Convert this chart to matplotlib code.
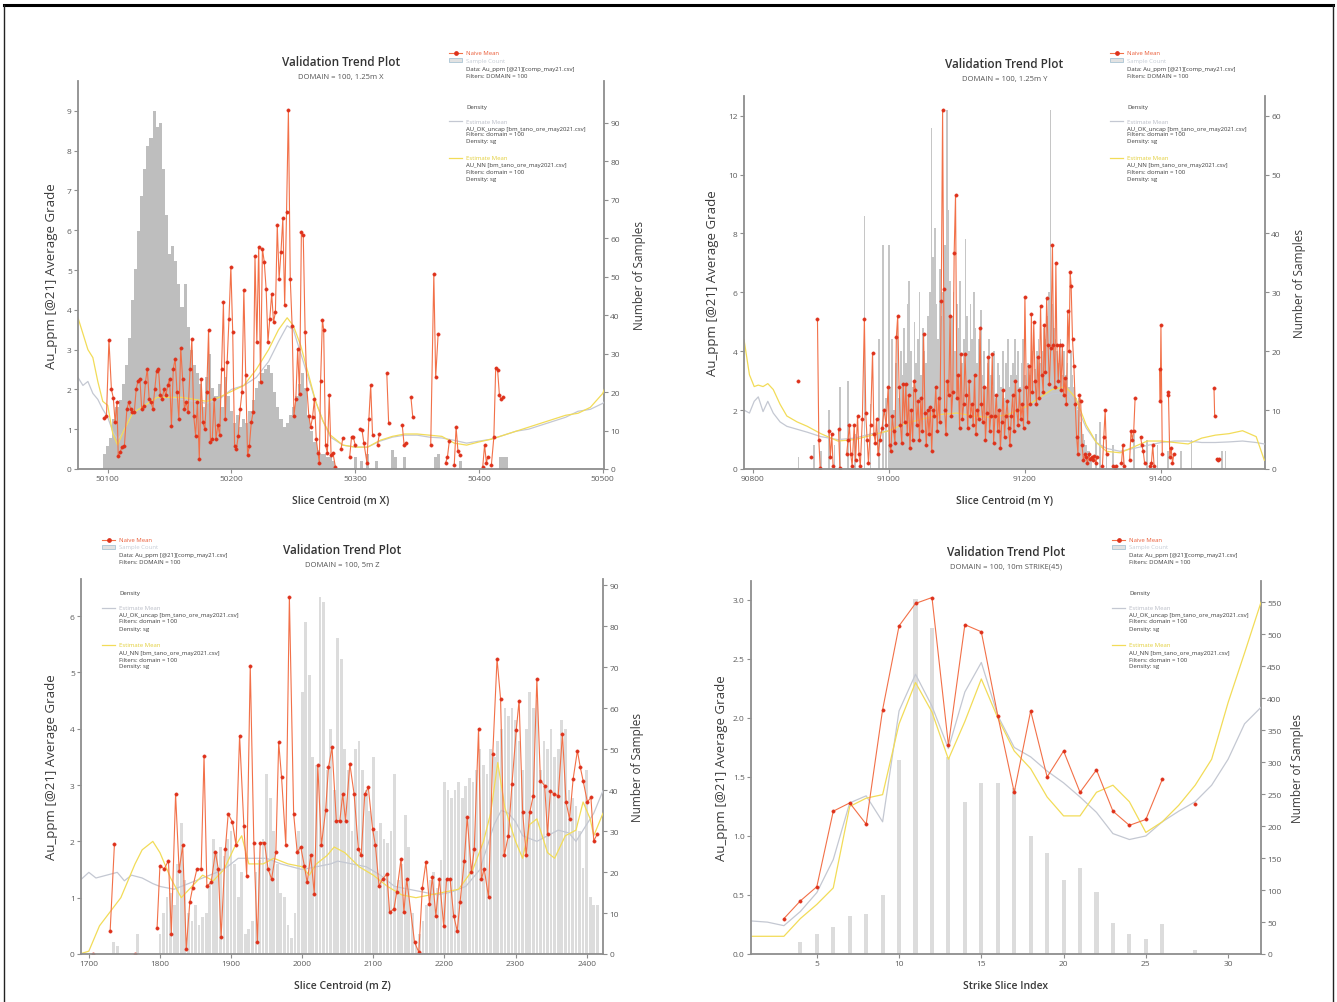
import numpy as np
import matplotlib
matplotlib.use("Agg")
import matplotlib.pyplot as plt
from matplotlib.lines import Line2D
from matplotlib.patches import Rectangle

plt.rcParams['font.family'] = ['Open Sans', 'DejaVu Sans']

nan = np.nan

# ---------------------------------------------------------------------------
# Panel 1 : DOMAIN = 100, 1.25m X
# ---------------------------------------------------------------------------
x_count_start, x_count_step = 50097.5, 2.5
x_count_n = [4, 6, 8, 13, 16, 18, 22, 27, 34, 44,
             52, 62, 71, 78, 84, 86, 93, 89, 90, 78,
             66, 56, 58, 54, 48, 42, 48, 37, 31, 27,
             25, 22, 16, 24, 30, 21, 19, 22, 16, 24,
             19, 15, 12, 14, 11, 13, 12, 15, 18, 21,
             23, 25, 26, 27, 25, 20, 16, 13, 11, 12,
             14, 16, 19, 22, 25, 21, 14, 10, 7, 5,
             4, 4, 3, 3, 2]
x_sparse_x = [50300, 50305, 50310, 50317.5, 50330, 50332.5, 50340, 50365, 50367.5, 50385, 50417.5, 50420, 50422.5]
x_sparse_n = [3, 2, 4, 2, 5, 3, 3, 3, 4, 2, 3, 3, 3]

x_naive_x = [50097, 50099, 50101, 50103, 50104.5, 50106, 50107.5, 50108.5, 50110, 50111.5,
             50113.5, 50115.5, 50117, 50118.5, 50120, 50121.5, 50123, 50124.5, 50126, 50127.5,
             50129, 50130.5, 50132, 50133.5, 50135, 50136.5, 50138, 50139.5, 50141, 50142.5,
             50144, 50145.5, 50147, 50148.5, 50150, 50151.5, 50153, 50154.5, 50156, 50157.5,
             50159, 50160.5, 50162, 50163.5, 50165, 50166.5, 50168, 50169.5, 50171, 50172.5,
             50174, 50175.5, 50177, 50178.5, 50180, 50181.5, 50183, 50184.5, 50186, 50187.5,
             50189, 50190.5, 50192, 50193.5, 50195, 50196.5, 50198, 50199.5, 50201, 50202.5,
             50204, 50205.5, 50207, 50208.5, 50210, 50211.5, 50213, 50214.5, 50216, 50217.5,
             50219, 50220.5, 50222, 50223.5, 50225, 50226.5, 50228, 50229.5, 50231, 50232.5,
             50234, 50235.5, 50237, 50238.5, 50240, 50241.5, 50243, 50244.5, 50246, 50247.5,
             50249, 50250.5, 50252, 50253.5, 50255, 50256.5, 50258, 50259.5, 50261, 50262.5,
             50264, 50265.5, 50267, 50268.5, 50270, 50271, 50272, 50273.5, 50274.5, 50276,
             50277.5, 50279, 50280.5, 50282, 50284]
x_naive_y = [1.28, 1.33, 3.25, 2.0, 1.79, 1.17, 1.68, 0.32, 0.42, 0.55,
             0.59, 1.51, 1.68, 1.51, 1.43, 1.43, 2.0, 2.22, 2.27, 1.51,
             1.59, 2.18, 2.52, 1.76, 1.68, 1.51, 2.0, 2.47, 2.52, 1.85,
             1.76, 2.0, 1.85, 2.1, 2.27, 1.09, 2.52, 2.77, 1.93, 1.26,
             3.05, 2.27, 1.51, 1.68, 1.43, 2.52, 3.27, 1.34, 0.84, 1.68,
             0.25, 2.27, 1.17, 1.0, 1.93, 3.5, 0.67, 0.76, 1.76, 0.76,
             1.1, 0.85, 2.52, 4.19, 1.26, 2.68, 3.78, 5.08, 3.44, 0.59,
             0.5, 0.84, 1.51, 1.93, 4.5, 2.35, 0.34, 0.59, 1.17, 1.43,
             5.35, 3.19, 5.58, 2.18, 5.54, 5.2, 4.53, 3.19, 3.78, 4.4,
             3.69, 3.94, 6.12, 4.78, 5.45, 6.3, 4.11, 6.46, 9.02, 4.78,
             3.6, 1.34, 1.76, 3.02, 1.89, 5.96, 5.87, 3.44, 2.0, 1.34,
             1.05, 1.3, 1.75, 0.75, 0.4, 0.15, 2.2, 3.75, 3.5, 0.6,
             0.4, 1.85, 0.35, 0.4, 0.05]
x_tail_x = [50288.5, 50290, nan, 50295.5, 50297, 50298.5, 50300, nan, 50304, 50305.5,
            50307, 50309.5, 50311, 50312.5, 50314, nan, 50318, 50319.5, nan, 50325.5,
            50327, nan, 50338, 50339.5, 50341, nan, 50345, 50346.5, nan, 50361,
            50363.5, 50365, 50367, nan, 50373, 50374.5, 50376, nan, 50380, 50381.5,
            50383, 50384.5, nan, 50403, 50404.5, 50406, 50407, nan, 50410, 50412,
            50413.5, 50415, 50416.5, 50418, 50419.5]
x_tail_y = [0.5, 0.78, nan, 0.3, 0.8, 0.8, 0.6, nan, 1.0, 0.97,
            0.65, 0.15, 1.25, 2.1, 0.85, nan, 0.6, 0.88, nan, 2.4,
            1.15, nan, 1.1, 0.6, 0.65, nan, 1.8, 1.3, nan, 0.6,
            4.9, 2.3, 3.4, nan, 0.15, 0.3, 0.7, nan, 0.1, 1.05,
            0.45, 0.35, nan, 0.05, 0.6, 0.15, 0.3, nan, 0.1, 0.8,
            2.55, 2.5, 1.85, 1.75, 1.8]

x_est_x = [50076, 50080, 50084, 50088, 50092, 50096, 50100, 50104, 50108, 50112,
           50120, 50130, 50140, 50150, 50160, 50170, 50180, 50190, 50200, 50210,
           50220, 50230, 50238, 50245, 50250, 50256, 50262, 50268, 50274, 50280,
           50290, 50300, 50310, 50320, 50330, 50340, 50350, 50360, 50370, 50380,
           50390, 50400, 50410, 50420, 50430, 50440, 50450, 50460, 50470, 50480,
           50490, 50500, 50510]
x_ok_y = [2.3, 2.1, 2.2, 1.9, 1.75, 1.5, 1.3, 0.95, 0.75, 0.9,
          1.4, 1.6, 1.8, 1.8, 1.75, 1.7, 1.65, 1.75, 2.0, 2.1,
          2.3, 2.7, 3.2, 3.6, 3.5, 2.9, 2.3, 1.7, 1.2, 0.8,
          0.6, 0.55, 0.55, 0.7, 0.8, 0.85, 0.85, 0.8, 0.78, 0.72,
          0.65, 0.7, 0.75, 0.85, 0.95, 1.0, 1.1, 1.2, 1.3, 1.45,
          1.5, 1.65, 1.95]
x_nn_y = [3.8, 3.4, 3.0, 2.8, 2.2, 1.7, 1.6, 0.9, 0.6, 0.9,
          1.4, 1.6, 1.8, 1.8, 1.8, 1.75, 1.7, 1.8, 1.95, 2.1,
          2.5, 3.0, 3.5, 3.8, 3.6, 3.1, 2.4, 1.7, 1.2, 0.85,
          0.6, 0.55, 0.55, 0.72, 0.82, 0.88, 0.88, 0.85, 0.82, 0.65,
          0.6, 0.68, 0.75, 0.85, 0.95, 1.05, 1.15, 1.25, 1.35, 1.4,
          1.55, 1.9, 2.7]

# ---------------------------------------------------------------------------
# Panel 2 : DOMAIN = 100, 1.25m Y
# ---------------------------------------------------------------------------
y_count_start, y_count_step = 91000.0, 2.5
y_count_n = [38, 14, 22, 10, 18, 26, 12, 20, 16, 24,
             18, 28, 32, 20, 14, 25, 18, 22, 30, 16,
             24, 20, 18, 26, 30, 58, 36, 41, 28, 22,
             34, 26, 30, 38, 61, 44, 32, 26, 30, 20,
             28, 24, 32, 18, 22, 39, 26, 20, 28, 22,
             30, 24, 18, 22, 27, 16, 20, 14, 18, 22,
             16, 14, 20, 12, 18, 16, 14, 20, 12, 18,
             22, 14, 16, 18, 22, 16, 20, 14, 18, 22,
             16, 14, 18, 16, 20, 15, 17, 20, 22, 18,
             20, 24, 22, 26, 30, 61, 28, 24, 22, 20,
             18, 22, 16, 20, 16, 18, 14, 20, 16, 14,
             12, 10, 12, 8, 6, 5, 4, 3, 3, 2]
y_sparse_x = [90867, 90890, 90900, 90912, 90920, 90928, 90940, 90950, 90964, 90973,
              90985, 90991, 90996, 91305, 91310, 91320, 91330, 91345, 91360, 91380,
              91395, 91410, 91430, 91445, 91490, 91495]
y_sparse_n = [2, 4, 3, 10, 4, 14, 15, 6, 43, 11,
              22, 38, 12, 6, 8, 5, 4, 3, 6, 5,
              4, 3, 3, 5, 3, 3]

y_naive_x = [90867, nan, 90885, nan, 90895, 90897, 90899, nan, 90912, 90914,
             90916, 90918, nan, 90926, 90928, nan, 90938, 90940, 90942, 90944,
             90946, 90949, 90951, 90954, 90956, 90958, 90961, 90964, 90966, 90968,
             90970, 90973, 90976, 90978, 90980, 90982, 90984, 90987, 90990, 90993,
             90996, 90999, 91001, 91003, 91005, 91007, 91009, 91011, 91013, 91015,
             91017, 91019, 91021, 91023, 91025, 91027, 91029, 91031, 91033, 91035,
             91037, 91039, 91041, 91043, 91045, 91047, 91049, 91051, 91053, 91055,
             91057, 91059, 91061, 91063, 91065, 91067, 91069, 91071, 91073, 91075,
             91077, 91079, 91080.5, 91082, 91084, 91086, 91088, 91090, 91092, 91094,
             91096, 91098, 91100, 91102, 91104, 91106, 91108, 91110, 91112, 91114,
             91116, 91118, 91120, 91122, 91124, 91126, 91128, 91130, 91132, 91134,
             91136, 91138, 91140, 91142, 91144, 91146, 91148, 91150, 91152, 91154,
             91156, 91158, 91160, 91162, 91164, 91166, 91168, 91170, 91172, 91174,
             91176, 91178, 91180, 91182, 91184, 91186, 91188, 91190, 91192, 91194,
             91196, 91198, 91200, 91202, 91204, 91206, 91208, 91209.5, 91211, 91213,
             91215, 91217, 91219, 91221, 91223, 91225, 91227, 91228.5, 91230, 91232,
             91234, 91236, 91238, 91240.5, 91242, 91244, 91245.5, 91247, 91249, 91251,
             91253, 91255, 91257, 91259, 91261, 91263, 91265, 91266.5, 91268, 91270,
             91272, 91274, 91276, 91278, 91280, 91282, 91284, 91286, 91288, 91290,
             91292, 91294, 91296, 91298, 91300, 91302, 91304, 91306, nan, 91314,
             91316, 91318, 91320, nan, 91330, 91332, 91334, nan, 91342, 91344,
             91346, nan, 91354, 91356, 91358, 91360, 91362, nan, 91370, 91372,
             91374, 91376, nan, 91384, 91386, 91388, 91390, nan, 91398, 91399,
             91400, 91402, nan, 91410, 91411, 91413, 91415, 91417, 91419, nan,
             91478, 91479, nan, 91482, 91484, 91486]
y_naive_y = [3.0, nan, 0.4, nan, 5.1, 1.0, 0.05, nan, 1.3, 0.4,
             1.2, 0.1, nan, 1.35, 0.05, nan, 0.5, 1.0, 1.5, 0.5,
             0.1, 1.5, 0.3, 1.8, 0.5, 0.1, 1.7, 5.1, 1.9, 1.0,
             0.2, 1.5, 3.95, 1.2, 0.9, 1.7, 0.5, 1.0, 1.4, 2.0,
             1.5, 2.8, 0.8, 0.6, 1.8, 1.3, 0.9, 4.5, 5.2, 2.8,
             1.5, 0.9, 2.9, 1.6, 2.9, 1.2, 2.5, 0.7, 2.0, 1.0,
             3.0, 2.7, 1.5, 2.3, 1.0, 2.4, 1.3, 4.6, 1.9, 0.8,
             2.0, 1.2, 2.1, 0.6, 2.0, 1.8, 2.8, 1.3, 2.4, 1.6,
             5.7, 12.2, 6.1, 2.0, 1.2, 3.0, 2.5, 5.2, 1.8, 2.6,
             7.35, 9.3, 2.4, 3.2, 1.4, 3.9, 1.7, 2.2, 3.9, 2.5,
             1.4, 3.0, 1.8, 2.2, 1.5, 3.2, 1.2, 2.0, 1.7, 4.8,
             2.2, 1.6, 2.8, 1.0, 1.9, 3.8, 1.3, 1.8, 3.9, 0.9,
             1.8, 2.5, 1.3, 2.0, 0.7, 1.6, 2.7, 1.1, 1.8, 2.3,
             1.4, 0.8, 1.8, 2.5, 1.3, 3.0, 2.0, 1.5, 2.7, 1.7,
             2.2, 1.4, 5.85, 2.8, 1.6, 3.5, 2.2, 5.25, 2.6, 5.0,
             3.0, 2.2, 3.8, 2.4, 5.55, 3.2, 2.6, 4.9, 3.3, 5.8,
             4.2, 2.9, 4.1, 7.6, 4.2, 2.8, 7.0, 4.2, 3.0, 4.2,
             2.7, 4.2, 2.5, 3.1, 2.2, 5.35, 4.0, 6.7, 6.2, 4.4,
             3.5, 2.2, 1.1, 0.5, 2.5, 2.3, 0.8, 0.3, 0.5, 0.4,
             0.2, 0.5, 0.35, 0.4, 0.3, 0.45, 0.2, 0.4, nan, 0.1,
             1.1, 2.0, 0.5, nan, 0.1, 0.05, 0.1, nan, 0.2, 0.8,
             0.1, nan, 0.3, 1.3, 1.0, 1.3, 2.4, nan, 1.1, 0.8,
             0.6, 0.2, nan, 0.1, 0.2, 0.8, 0.1, nan, 3.4, 2.3,
             4.9, 0.5, nan, 2.5, 2.6, 0.4, 0.7, 0.2, 0.5, nan,
             2.75, 1.8, nan, 0.35, 0.3, 0.35]

y_est_x = [90787, 90795, 90802, 90808, 90815, 90822, 90830, 90840, 90850, 90865,
           90880, 90900, 90925, 90950, 90975, 91000, 91025, 91050, 91075, 91100,
           91125, 91150, 91175, 91200, 91220, 91240, 91260, 91275, 91290, 91305,
           91320, 91340, 91360, 91380, 91400, 91420, 91440, 91460, 91480, 91500,
           91520, 91540, 91552]
y_ok_y = [2.0, 1.9, 2.3, 2.45, 1.95, 2.3, 1.9, 1.6, 1.45, 1.35,
          1.25, 1.1, 1.0, 1.05, 1.2, 1.3, 1.5, 1.65, 1.8, 1.85,
          1.75, 1.7, 1.8, 2.0, 2.3, 2.55, 2.6, 2.2, 1.4, 0.9,
          0.7, 0.6, 0.7, 0.8, 0.9, 0.95, 0.95, 0.9, 0.9, 0.92,
          0.95, 0.9, 0.85]
y_nn_y = [4.4, 3.2, 2.8, 2.85, 2.8, 2.9, 2.7, 2.2, 1.8, 1.6,
          1.45, 1.2, 0.95, 1.0, 1.15, 1.3, 1.55, 1.7, 1.85, 1.9,
          1.8, 1.75, 1.85, 2.1, 2.4, 2.7, 2.8, 2.4, 1.5, 0.9,
          0.6, 0.55, 0.75, 0.95, 0.95, 0.9, 0.85, 1.05, 1.15, 1.2,
          1.3, 1.1, 0.3]

# ---------------------------------------------------------------------------
# Panel 3 : DOMAIN = 100, 5m Z
# ---------------------------------------------------------------------------
z_count_start, z_count_step = 1800.0, 5.0
z_count_n = [5, 10, 14, 15, 12, 22, 32, 18, 10, 8,
             12, 7, 9, 10, 17, 28, 25, 26, 24, 28,
             30, 22, 14, 20, 5, 6, 8, 20, 23, 28,
             44, 38, 30, 22, 15, 14, 7, 4, 10, 30,
             64, 81, 68, 48, 46, 87, 86, 45, 55, 40,
             77, 72, 50, 45, 30, 50, 52, 45, 40, 35,
             48, 30, 32, 28, 27, 30, 44, 18, 22, 34,
             26, 10, 3, 5, 8, 12, 18, 20, 16, 23,
             42, 40, 38, 40, 42, 38, 41, 43, 42, 45,
             50, 46, 44, 50, 48, 52, 55, 60, 58, 60,
             57, 52, 45, 55, 64, 60, 62, 45, 52, 50,
             55, 48, 50, 57, 55, 40, 38, 36, 30, 21,
             45, 14, 12, 12]
z_sparse_x = [1735, 1740, 1768]
z_sparse_n = [3, 2, 5]

z_naive_x = [1706, nan, 1730, 1736, nan, 1765, nan,
             1796, 1800, 1806, 1812, 1816, 1822, 1827, 1832, 1837, 1842,
             1846, 1852, 1858, 1862, 1866, 1872, 1878, 1882, 1886, 1892,
             1896, 1902, 1907, 1912, 1918, 1922, 1927, 1932, 1937, 1941,
             1947, 1952, 1957, 1963, 1967, 1971, 1977, 1982, 1988, 1993,
             1998, 2003, 2007, 2012, 2017, 2022, 2027, 2033, 2037, 2042,
             2048, 2053, 2057, 2061, 2067, 2073, 2079, 2083, 2088, 2093,
             2099, 2103, 2108, 2113, 2119, 2123, 2129, 2133, 2139, 2143,
             2147,
             2158, 2164, 2169, 2174, 2179, 2183, 2188, 2193, 2199, 2203,
             2208, 2213, 2218, 2222, 2228, 2232, 2238, 2242, 2248, 2252,
             2256, 2262, 2268, 2274, 2279, 2284, 2290, 2295, 2301, 2305,
             2310, 2315, 2320, 2325, 2330, 2335, 2341, 2345, 2349, 2354,
             2360, 2366, 2371, 2376, 2381, 2387, 2391, 2395, 2401, 2406,
             2410, 2415]
z_naive_y = [0.0, nan, 0.41, 1.95, nan, 0.0, nan,
             0.47, 1.57, 1.51, 1.66, 0.36, 2.84, 1.48, 1.93, 0.09, 0.92,
             1.18, 1.51, 1.51, 3.52, 1.21, 1.27, 1.81, 1.51, 0.30, 1.87,
             2.49, 2.34, 1.93, 3.88, 2.28, 1.39, 5.12, 1.98, 0.21, 1.98,
             1.98, 1.51, 1.33, 1.81, 3.76, 3.14, 1.93, 6.34, 2.49, 1.81,
             1.90, 1.57, 1.27, 1.75, 1.07, 3.35, 1.93, 2.55, 3.32, 3.67,
             2.37, 2.37, 2.84, 2.37, 3.38, 2.84, 1.87, 1.75, 2.84, 2.96,
             2.22, 1.93, 1.21, 1.33, 1.42, 0.74, 0.80, 1.10, 1.69, 0.74,
             1.33,
             0.21, 0.03, 1.18, 1.63, 0.89, 1.36, 0.68, 1.33, 0.50, 1.33,
             1.33, 0.68, 0.41, 0.92, 1.66, 2.43, 1.45, 1.87, 4.00, 1.33,
             1.51, 1.01, 3.55, 5.24, 4.53, 1.75, 2.10, 3.02, 3.97, 4.50,
             2.52, 1.75, 2.52, 2.81, 4.89, 3.08, 2.99, 2.13, 2.90, 2.84,
             2.81, 3.91, 2.70, 2.40, 3.11, 3.61, 3.32, 3.08, 2.70, 2.78,
             2.01, 2.13]

z_ok_x = [1687, 1700, 1710, 1725, 1740, 1750, 1760, 1775, 1790, 1800,
          1820, 1840, 1860, 1880, 1895, 1910, 1930, 1950, 1970, 2000,
          2020, 2040, 2050, 2070, 2090, 2110, 2130, 2150, 2170, 2190,
          2210, 2230, 2250, 2260, 2270, 2280, 2290, 2300, 2310, 2330,
          2345, 2360, 2375, 2385, 2400, 2410, 2423]
z_ok_y = [1.3, 1.45, 1.35, 1.4, 1.45, 1.3, 1.4, 1.35, 1.25, 1.2,
          1.15, 1.25, 1.35, 1.45, 1.55, 1.7, 1.7, 1.7, 1.6, 1.5,
          1.55, 1.6, 1.65, 1.6, 1.55, 1.4, 1.2, 1.15, 1.1, 1.05,
          1.1, 1.2, 1.5, 1.9, 2.3, 2.55, 2.5, 2.35, 2.1, 2.0,
          2.1, 2.2, 2.15, 2.0, 2.3, 2.5, 2.9]
z_nn_x = [1687, 1700, 1715, 1730, 1745, 1755, 1765, 1775, 1790, 1800,
          1815, 1830, 1845, 1860, 1875, 1890, 1905, 1915, 1925, 1945,
          1960, 1980, 2000, 2010, 2020, 2035, 2045, 2060, 2080, 2100,
          2120, 2140, 2160, 2180, 2200, 2220, 2240, 2255, 2265, 2275,
          2285, 2300, 2310, 2320, 2330, 2345, 2355, 2370, 2385, 2395,
          2405, 2410, 2423]
z_nn_y = [0.0, 0.05, 0.5, 0.75, 1.0, 1.3, 1.6, 1.85, 2.0, 1.8,
          1.35, 1.0, 1.2, 1.4, 1.3, 1.5, 1.9, 2.1, 1.6, 1.6,
          1.7, 1.6, 1.55, 1.4, 1.6, 1.75, 1.9, 1.8, 1.55, 1.4,
          1.2, 1.05, 1.0, 1.05, 1.1, 1.15, 1.5, 2.0, 2.5, 3.4,
          2.6, 2.0, 1.7, 2.3, 2.4, 1.8, 1.7, 2.1, 2.2, 2.7,
          2.4, 2.1, 2.5]

# ---------------------------------------------------------------------------
# Panel 4 : DOMAIN = 100, 10m STRIKE(45)
# ---------------------------------------------------------------------------
s_count_x = [4, 5, 6, 7, 8, 9, 10, 11, 12, 13, 14, 15, 16, 17, 18, 19, 20, 21, 22, 23, 24, 25, 26, 28]
s_count_n = [18, 32, 42, 60, 62, 92, 303, 555, 510, 308, 238, 267, 268, 260, 184, 158, 116, 135, 97, 48, 32, 24, 47, 7]

s_naive_x = [3, 4, 5, 6, 7, 8, 9, 10, 11, 12, 13, 14, 15, 16, 17, 18, 19, 20, 21, 22, 23, 24, 25, 26, nan, 28]
s_naive_y = [0.30, 0.45, 0.57, 1.21, 1.28, 1.10, 2.07, 2.78, 2.97, 3.02,
             1.77, 2.79, 2.73, 2.02, 1.37, 2.06, 1.50, 1.72, 1.37, 1.56,
             1.21, 1.09, 1.14, 1.48, nan, 1.27]

s_est_x = list(range(1, 33))
s_ok_y = [0.28, 0.27, 0.24, 0.36, 0.52, 0.8, 1.28, 1.34, 1.12, 2.06,
          2.37, 2.1, 1.74, 2.22, 2.47, 2.02, 1.75, 1.67, 1.55, 1.45,
          1.33, 1.20, 1.02, 0.97, 1.0, 1.12, 1.21, 1.29, 1.43, 1.65,
          1.95, 2.09]
s_nn_y = [0.15, 0.15, 0.15, 0.3, 0.42, 0.56, 1.25, 1.32, 1.35, 1.95,
          2.3, 2.05, 1.65, 1.97, 2.33, 2.0, 1.72, 1.57, 1.33, 1.17,
          1.17, 1.37, 1.43, 1.29, 1.03, 1.12, 1.26, 1.43, 1.65, 2.13,
          2.55, 2.98]

# Legend text shared by the four plots
legend_rows = [("Naive Mean", "naive"),
               ("Sample Count", "count"),
               ("Data: Au_ppm [@21][comp_may21.csv]", None),
               ("Filters: DOMAIN = 100", None),
               ("Density", None),
               ("Estimate Mean", "ok"),
               ("AU_OK_uncap [bm_tano_ore_may2021.csv]", None),
               ("Filters: domain = 100", None),
               ("Density: sg", None),
               ("Estimate Mean", "nn"),
               ("AU_NN [bm_tano_ore_may2021.csv]", None),
               ("Filters: domain = 100", None),
               ("Density: sg", None)]
legend_offsets = [0, 7, 15, 22, 53, 68, 75, 81, 88, 105, 112, 119, 126]

# ---------------------------------------------------------------------------
W, H = 1337, 1003
fig = plt.figure(figsize=(W / 100, H / 100), dpi=100)
fig.patch.set_facecolor('white')

RED_LINE = '#f27048'
RED_MARK = '#de311b'
OK_GRAY = '#c4c8d2'
NN_YELLOW = '#f2dc58'
SPINE = '#8e8e8e'
TICKTXT = '#5c5c5c'
LABEL = '#3a3a3a'


def fx(x):
    return x / W


def fy(y):
    return 1 - y / H


def draw_legend(x0, y0):
    colors = {"naive": '#ea5a35', "count": '#c6cdd6', "ok": '#b9bcc6', "nn": '#e2cf3a'}
    tx = x0 + 17
    for (text, kind), off in zip(legend_rows, legend_offsets):
        y = y0 + off
        if kind == "naive":
            fig.add_artist(Line2D([fx(x0), fx(x0 + 13)], [fy(y), fy(y)], color=RED_LINE, lw=0.8))
            fig.add_artist(Line2D([fx(x0 + 6.5)], [fy(y)], marker='o', ms=2.4, color=RED_MARK, lw=0))
        elif kind == "count":
            fig.add_artist(Rectangle((fx(x0), fy(y + 2)), 13 / W, 4 / H, facecolor='#e2e2e2',
                                     edgecolor='#a9c4d4', lw=0.6))
        elif kind == "ok":
            fig.add_artist(Line2D([fx(x0), fx(x0 + 13)], [fy(y), fy(y)], color=OK_GRAY, lw=0.9))
        elif kind == "nn":
            fig.add_artist(Line2D([fx(x0), fx(x0 + 13)], [fy(y), fy(y)], color=NN_YELLOW, lw=0.9))
        color = colors.get(kind, '#3c3c3c')
        fig.text(fx(tx), fy(y), text, fontsize=4.3, color=color, va='center', ha='left')


def draw_panel(box, bars_x, bars_n, bar_w, bar_color, naive, ok, nn,
               xlim, ylim, y2lim, xticks, yticks, y2ticks,
               xlabel, subtitle, title_y, legend_at, ylab_x, y2lab_x):
    x0, y0, x1, y1 = box
    ax = fig.add_axes([fx(x0), fy(y1), (x1 - x0) / W, (y1 - y0) / H])
    ax2 = ax.twinx()
    ax2.bar(bars_x, bars_n, width=bar_w, color=bar_color, linewidth=0)
    ax.set_zorder(ax2.get_zorder() + 1)
    ax.patch.set_visible(False)
    ax.plot(ok[0], ok[1], color=OK_GRAY, lw=0.9)
    ax.plot(nn[0], nn[1], color=NN_YELLOW, lw=0.9)
    ax.plot(naive[0], naive[1], color=RED_LINE, lw=0.8, marker='o', ms=2.5,
            mfc=RED_MARK, mec=RED_MARK, mew=0.2)
    ax.set_xlim(*xlim)
    ax.set_ylim(*ylim)
    ax2.set_ylim(*y2lim)
    ax.set_xticks(xticks)
    ax.set_yticks(yticks)
    ax2.set_yticks(y2ticks)
    for a in (ax, ax2):
        for s in a.spines.values():
            s.set_visible(False)
    for s in (ax.spines['left'], ax.spines['bottom'], ax2.spines['right']):
        s.set_visible(True)
        s.set_color(SPINE)
        s.set_linewidth(1.3)
    ax.tick_params(axis='both', direction='out', length=3, width=0.8, color=SPINE,
                   labelsize=6, labelcolor=TICKTXT, pad=1.5)
    ax2.tick_params(axis='y', direction='out', length=3, width=0.8, color=SPINE,
                    labelsize=6, labelcolor=TICKTXT, pad=1.5)
    cx = (x0 + x1) / 2
    fig.text(fx(cx), fy(title_y), "Validation Trend Plot", fontsize=8.5, fontweight='semibold',
             color='#333333', ha='center', va='center')
    fig.text(fx(cx), fy(title_y + 15), subtitle, fontsize=5.5, color='#555555',
             ha='center', va='center')
    fig.text(fx(cx), fy(y1 + 32), xlabel, fontsize=7.5, fontweight='semibold', color=LABEL,
             ha='center', va='center')
    cy = (y0 + y1) / 2
    fig.text(fx(ylab_x), fy(cy), "Au_ppm [@21] Average Grade", fontsize=9.5, color=LABEL,
             rotation=90, ha='center', va='center')
    fig.text(fx(y2lab_x), fy(cy), "Number of Samples", fontsize=8.5, color=LABEL,
             rotation=90, ha='center', va='center')
    draw_legend(*legend_at)
    return ax, ax2


# Panel 1
p1_bars_x = list(x_count_start + x_count_step * np.arange(len(x_count_n))) + x_sparse_x
p1_bars_n = x_count_n + x_sparse_n
draw_panel((78, 82, 604, 470), p1_bars_x, p1_bars_n, 2.5, '#bebebe',
           (x_naive_x + [nan] + x_tail_x, x_naive_y + [nan] + x_tail_y),
           (x_est_x, x_ok_y), (x_est_x, x_nn_y),
           (50076, 50501), (0, 9.75), (0, 100.9),
           [50100, 50200, 50300, 50400, 50500], range(0, 10), range(0, 91, 10),
           "Slice Centroid (m X)", "DOMAIN = 100, 1.25m X", 63, (449, 54), 52, 640)

# Panel 2
p2_bars_x = list(y_count_start + y_count_step * np.arange(len(y_count_n))) + y_sparse_x
p2_bars_n = y_count_n + y_sparse_n
draw_panel((744, 97, 1265, 470), p2_bars_x, p2_bars_n, 2.5, '#c6c6c6',
           (y_naive_x, y_naive_y), (y_est_x, y_ok_y), (y_est_x, y_nn_y),
           (90787, 91553), (0, 12.67), (0, 63.35),
           [90800, 91000, 91200, 91400], range(0, 13, 2), range(0, 61, 10),
           "Slice Centroid (m Y)", "DOMAIN = 100, 1.25m Y", 65, (1110, 54), 712, 1300)

# Panel 3
p3_bars_x = list(z_count_start + z_count_step * np.arange(len(z_count_n))) + z_sparse_x
p3_bars_n = z_count_n + z_sparse_n
draw_panel((81, 580, 603, 955), p3_bars_x, p3_bars_n, 3.8, '#dcdcdc',
           (z_naive_x, z_naive_y), (z_ok_x, z_ok_y), (z_nn_x, z_nn_y),
           (1689, 2423), (0, 6.66), (0, 91.5),
           list(range(1700, 2401, 100)), range(0, 7), range(0, 91, 10),
           "Slice Centroid (m Z)", "DOMAIN = 100, 5m Z", 551, (102, 541), 52, 638)

# Panel 4
draw_panel((751, 582, 1261, 955), s_count_x, s_count_n, 0.25, '#dcdcdc',
           (s_naive_x, s_naive_y), (s_est_x, s_ok_y), (s_est_x, s_nn_y),
           (1.0, 32.0), (0, 3.16), (0, 583),
           [5, 10, 15, 20, 25, 30], [0, 0.5, 1.0, 1.5, 2.0, 2.5, 3.0], range(0, 551, 50),
           "Strike Slice Index", "DOMAIN = 100, 10m STRIKE(45)", 552, (1112, 541), 721, 1298)

# Outer frame
fig.add_artist(Line2D([fx(4), fx(1333)], [fy(5.5), fy(5.5)], color='black', lw=2.2))
fig.add_artist(Line2D([fx(4), fx(4)], [fy(5.5), fy(1003)], color='#222222', lw=1.0))
fig.add_artist(Line2D([fx(1333), fx(1333)], [fy(5.5), fy(1003)], color='#222222', lw=1.0))

fig.savefig("out.png", dpi=100)
